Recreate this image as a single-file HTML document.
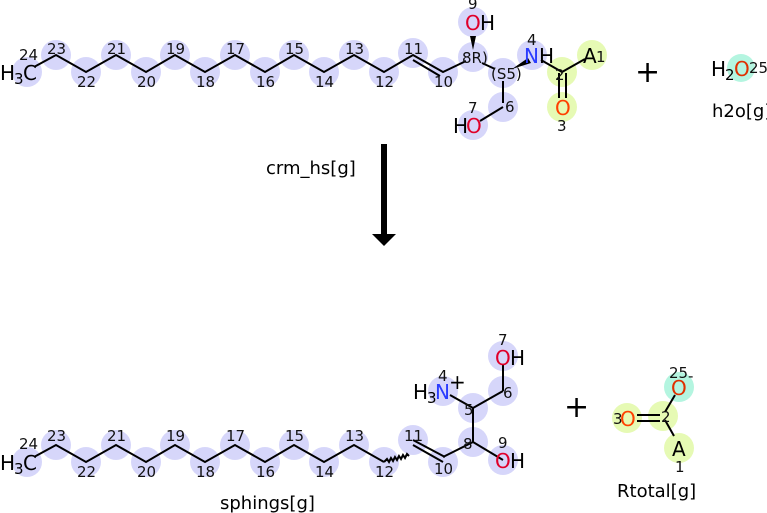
<!DOCTYPE html>
<html><head><meta charset="utf-8"><style>
html,body{margin:0;padding:0;background:#fff;}
svg{display:block;font-family:"DejaVu Sans","Liberation Sans",sans-serif;}
.b{fill:#d6d6fa}.g{fill:#e6fab4}.c{fill:#b4f5e0}
.l{stroke:#000;stroke-width:2;fill:none}
text.n{font-size:15px;fill:#111}
text.a{font-size:20px}
text.s{font-size:15px}
text.p{font-size:30px}
text.t{font-size:18px}
</style></head><body>
<svg width="767" height="513" viewBox="0 0 767 513">
<!-- TOP -->
<g>
<circle class="b" cx="27" cy="72" r="15"/><circle class="b" cx="56" cy="55" r="15"/><circle class="b" cx="86" cy="72" r="15"/><circle class="b" cx="116" cy="55" r="15"/><circle class="b" cx="146" cy="72" r="15"/><circle class="b" cx="175" cy="55" r="15"/><circle class="b" cx="205" cy="72" r="15"/><circle class="b" cx="235" cy="55" r="15"/><circle class="b" cx="265" cy="72" r="15"/><circle class="b" cx="294" cy="55" r="15"/><circle class="b" cx="324" cy="72" r="15"/><circle class="b" cx="354" cy="55" r="15"/><circle class="b" cx="384" cy="72" r="15"/><circle class="b" cx="413" cy="53" r="15"/><circle class="b" cx="443" cy="72" r="15"/><circle class="b" cx="473" cy="57" r="15"/><circle class="b" cx="473" cy="22" r="15"/><circle class="b" cx="503" cy="73" r="15"/><circle class="b" cx="532" cy="55" r="15"/><circle class="b" cx="503" cy="107" r="15"/><circle class="b" cx="473" cy="125" r="15"/>
<circle class="g" cx="562" cy="72" r="15"/><circle class="g" cx="592" cy="55" r="15"/><circle class="g" cx="562" cy="107" r="15"/>
<circle class="c" cx="741" cy="68" r="14"/>
<polyline class="l" points="34,67 56,55 86,72 116,55 146,72 175,55 205,72 235,55 265,72 294,55 324,72 354,55 384,72 413,55 443,72 466,61"/>
<line class="l" x1="413" y1="60" x2="440" y2="76"/>
<line class="l" x1="482" y1="63" x2="495" y2="69"/>
<polygon points="473,50 470,36 476,36" fill="#000"/>
<polygon points="512,69 528,58 531,63" fill="#000"/>
<line class="l" x1="503" y1="81" x2="503" y2="103"/>
<line class="l" x1="503" y1="107" x2="480" y2="121"/>
<line class="l" x1="541" y1="60" x2="562" y2="72"/>
<line class="l" x1="562" y1="72" x2="585" y2="59"/>
<line class="l" x1="559" y1="73" x2="559" y2="98"/><line class="l" x1="566" y1="73" x2="566" y2="98"/>
<text class="a" x="0" y="80">H</text><text class="s" x="14" y="84">3</text><text class="a" x="23" y="80">C</text>
<text class="n" x="19" y="60">24</text><text class="n" x="47" y="54">23</text><text class="n" x="77" y="87">22</text><text class="n" x="107" y="54">21</text><text class="n" x="137" y="87">20</text><text class="n" x="166" y="54">19</text><text class="n" x="196" y="87">18</text><text class="n" x="226" y="54">17</text><text class="n" x="256" y="87">16</text><text class="n" x="285" y="54">15</text><text class="n" x="315" y="87">14</text><text class="n" x="345" y="54">13</text><text class="n" x="375" y="87">12</text><text class="n" x="404" y="54">11</text><text class="n" x="434" y="87">10</text>
<text class="n" x="462" y="63">8R)</text><text class="n" x="491" y="79">(S5)</text><text class="n" x="505" y="112">6</text>
<text class="n" x="468" y="9">9</text><text class="a" x="465" y="30" fill="#e0002a">O</text><text class="a" x="480" y="30">H</text>
<text class="n" x="527" y="45">4</text><text class="a" x="524" y="63" fill="#2a3cff">N</text><text class="a" x="539" y="63">H</text>
<text class="a" x="583" y="63">A</text><text class="n" x="596" y="62">1</text>
<text class="n" x="555" y="80">2</text>
<text class="a" x="555" y="115" fill="#ff4000">O</text><text class="n" x="557" y="131">3</text>
<text class="n" x="468" y="113">7</text><text class="a" x="453" y="133">H</text><text class="a" x="466" y="133" fill="#e0002a">O</text>
<text class="a" x="711" y="76">H</text><text class="s" x="725" y="80">2</text><text class="a" x="734" y="76" fill="#e03000">O</text><text class="n" x="749" y="73">25</text>
<text class="p" x="635" y="82">+</text>
<text class="t" x="712" y="117">h2o[g]</text>
</g>
<!-- ARROW -->
<rect x="381" y="144" width="6" height="91" fill="#000"/>
<polygon points="372,234 396,234 384,246" fill="#000"/>
<text class="t" x="266" y="174">crm_hs[g]</text>
<!-- BOTTOM -->
<g>
<circle class="b" cx="27" cy="462" r="15"/><circle class="b" cx="56" cy="445" r="15"/><circle class="b" cx="86" cy="462" r="15"/><circle class="b" cx="116" cy="445" r="15"/><circle class="b" cx="146" cy="462" r="15"/><circle class="b" cx="175" cy="445" r="15"/><circle class="b" cx="205" cy="462" r="15"/><circle class="b" cx="235" cy="445" r="15"/><circle class="b" cx="265" cy="462" r="15"/><circle class="b" cx="294" cy="445" r="15"/><circle class="b" cx="324" cy="462" r="15"/><circle class="b" cx="354" cy="445" r="15"/><circle class="b" cx="384" cy="462" r="15"/><circle class="b" cx="413" cy="440" r="15"/><circle class="b" cx="443" cy="462" r="15"/><circle class="b" cx="473" cy="442" r="15"/><circle class="b" cx="503" cy="460" r="15"/><circle class="b" cx="473" cy="408" r="15"/><circle class="b" cx="443" cy="391" r="15"/><circle class="b" cx="503" cy="391" r="15"/><circle class="b" cx="503" cy="356" r="15"/>
<circle class="g" cx="627" cy="418" r="15"/><circle class="g" cx="663" cy="416" r="15"/><circle class="g" cx="679" cy="448" r="15"/><circle class="c" cx="679" cy="387" r="15"/>
<polyline class="l" points="34,457 56,445 86,462 116,445 146,462 175,445 205,462 235,445 265,462 294,445 324,462 354,445 384,462"/>
<path class="l" d="M384,462 l3,-3 l2,3 l2,-4 l2,3 l2,-4 l2,3 l2,-4 l2,3 l2,-4 l2,3 l2,-4 l2,2" stroke-width="1.3"/>
<line class="l" x1="413" y1="445" x2="443" y2="462"/><line class="l" x1="413" y1="440" x2="445" y2="457"/>
<polyline class="l" points="443,457 473,442 503,460"/>
<line class="l" x1="473" y1="442" x2="473" y2="408"/>
<line class="l" x1="473" y1="408" x2="450" y2="395"/>
<line class="l" x1="473" y1="408" x2="503" y2="391"/>
<line class="l" x1="503" y1="391" x2="503" y2="365"/>
<line class="l" x1="637" y1="415" x2="660" y2="415"/><line class="l" x1="637" y1="421" x2="660" y2="421"/>
<line class="l" x1="665" y1="412" x2="675" y2="395"/>
<line class="l" x1="665" y1="420" x2="674" y2="436"/>
<text class="a" x="0" y="470">H</text><text class="s" x="14" y="474">3</text><text class="a" x="23" y="470">C</text>
<text class="n" x="19" y="449">24</text><text class="n" x="47" y="441">23</text><text class="n" x="77" y="477">22</text><text class="n" x="107" y="441">21</text><text class="n" x="137" y="477">20</text><text class="n" x="166" y="441">19</text><text class="n" x="196" y="477">18</text><text class="n" x="226" y="441">17</text><text class="n" x="256" y="477">16</text><text class="n" x="285" y="441">15</text><text class="n" x="315" y="477">14</text><text class="n" x="345" y="441">13</text><text class="n" x="375" y="477">12</text><text class="n" x="404" y="441">11</text><text class="n" x="434" y="474">10</text>
<text class="n" x="463" y="449">8</text><text class="n" x="464" y="415">5</text><text class="n" x="503" y="398">6</text>
<text class="n" x="498" y="345">7</text><text class="a" x="495" y="365" fill="#e0002a">O</text><text class="a" x="510" y="365">H</text>
<text class="n" x="498" y="448">9</text><text class="a" x="495" y="468" fill="#e0002a">O</text><text class="a" x="510" y="468">H</text>
<text class="n" x="438" y="381">4</text><text class="a" x="413" y="399">H</text><text class="s" x="427" y="403">3</text><text class="a" x="435" y="399" fill="#2a3cff">N</text><text class="a" x="449" y="389">+</text>
<text class="p" x="564" y="417">+</text>
<text class="n" x="613" y="424">3</text><text class="a" x="620" y="426" fill="#ff4000">O</text><text class="n" x="661" y="422">2</text>
<text class="a" x="671" y="395" fill="#e03000">O</text><text class="n" x="669" y="378">25</text><text class="n" x="688" y="381">-</text>
<text class="a" x="672" y="456">A</text><text class="n" x="675" y="472">1</text>
<text class="t" x="220" y="509">sphings[g]</text>
<text class="t" x="617" y="497">Rtotal[g]</text>
</g>
</svg>
</body></html>
